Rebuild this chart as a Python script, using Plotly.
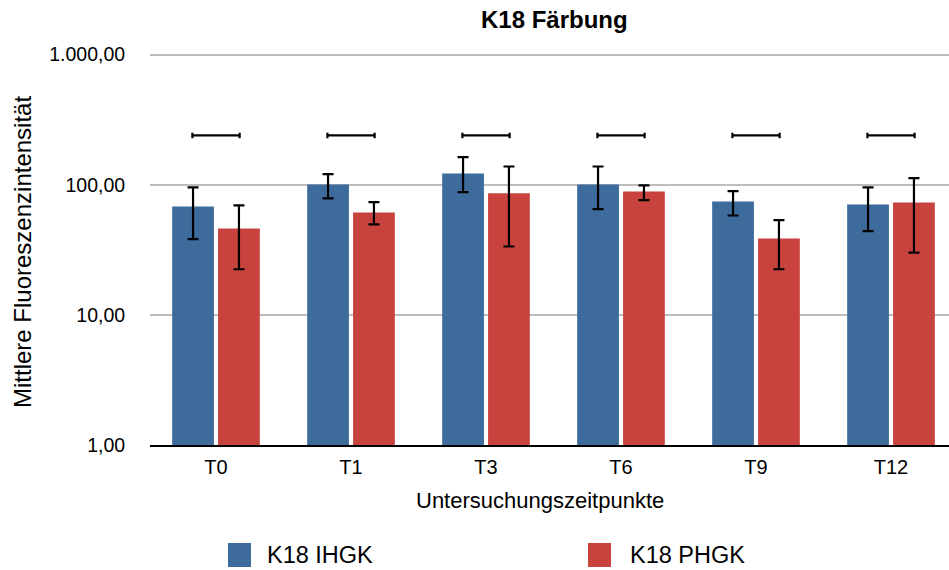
import plotly.graph_objects as go

# ---- data -------------------------------------------------------------
categories = ["T0", "T1", "T3", "T6", "T9", "T12"]

ihgk_mean = [68.0, 100.5, 122.0, 100.5, 74.4, 70.5]
ihgk_upper = [95.3, 120.7, 163.0, 138.0, 89.3, 95.3]
ihgk_lower = [38.2, 78.5, 87.7, 64.9, 58.0, 44.0]

phgk_mean = [46.1, 61.2, 85.8, 88.8, 38.6, 73.1]
phgk_upper = [69.3, 73.5, 138.0, 98.8, 53.4, 112.5]
phgk_lower = [22.4, 49.5, 33.5, 76.2, 22.4, 30.1]

bracket_level = 239.0

y_tick_vals = [1, 10, 100, 1000]
y_tick_text = ["1,00", "10,00", "100,00", "1.000,00"]

series_names = ["K18 IHGK", "K18 PHGK"]

# ---- styling ----------------------------------------------------------
BLUE = "#3C6B9C"
RED = "#C8433E"
FONT = "Liberation Sans, Arial, Helvetica, sans-serif"

W, H = 949, 570
Y_TOP = 3.012  # a hair above 1000 so its grid line is not clipped
DECADE_PX = 130.0
M_L, M_R, M_B = 150, 0, 125
M_T = round(H - M_B - DECADE_PX * Y_TOP)
PLOT_W = W - M_L - M_R
PLOT_H = H - M_T - M_B

# category spacing (px) and centre of the first group (px)
CAT_PX = 135.0
FIRST_PX = 216.0


def px_x(px):
    return (px - M_L) / PLOT_W


def px_y(py):
    return (H - M_B - py) / PLOT_H


x_pos = list(range(len(categories)))
half = 0.175  # distance from group centre to each bar centre


def err_plus(mean, upper):
    return [u - m for m, u in zip(mean, upper)]


def err_minus(mean, lower):
    return [m - l for m, l in zip(mean, lower)]


fig = go.Figure()

for name, mean, up, lo, col in [
    (series_names[0], ihgk_mean, ihgk_upper, ihgk_lower, BLUE),
    (series_names[1], phgk_mean, phgk_upper, phgk_lower, RED),
]:
    fig.add_trace(go.Bar(
        x=x_pos, y=mean, name=name, marker=dict(color=col, line=dict(width=0)),
        error_y=dict(type="data", symmetric=False,
                     array=err_plus(mean, up), arrayminus=err_minus(mean, lo),
                     color="black", thickness=2.2, width=5.5),
        showlegend=False,
    ))

# comparison brackets above each pair
cap = 1.05
bx, by = [], []
for i in x_pos:
    a, b = i - half, i + half
    bx += [a, a, None, a, b, None, b, b, None]
    by += [bracket_level / cap, bracket_level * cap, None,
           bracket_level, bracket_level, None,
           bracket_level / cap, bracket_level * cap, None]
fig.add_trace(go.Scatter(x=bx, y=by, mode="lines",
                         line=dict(color="black", width=2.2),
                         hoverinfo="skip", showlegend=False))

fig.update_layout(
    width=W, height=H,
    margin=dict(l=M_L, r=M_R, t=M_T, b=M_B),
    paper_bgcolor="white", plot_bgcolor="white",
    barmode="group", bargap=0.32, bargroupgap=0.09,
    font=dict(family=FONT, color="black", size=20),
)

x_lo = (M_L - FIRST_PX) / CAT_PX
x_hi = (W - M_R - FIRST_PX) / CAT_PX
fig.update_xaxes(
    range=[x_lo, x_hi],
    tickvals=x_pos, ticktext=categories,
    showgrid=False, zeroline=False,
    showline=True, linecolor="black", linewidth=2,
    ticks="outside", ticklen=3, tickcolor="rgba(0,0,0,0)",
    tickfont=dict(size=20, family=FONT),
)
fig.update_yaxes(
    type="log", range=[0, Y_TOP],
    tickvals=y_tick_vals, ticktext=y_tick_text,
    showgrid=True, gridcolor="#BDBDBD", gridwidth=1.5,
    zeroline=False, showline=False,
    ticks="outside", ticklen=20, tickcolor="rgba(0,0,0,0)",
    tickfont=dict(size=19.5, family=FONT),
)

annotations = [
    dict(text="<b>K18 Färbung</b>", xref="paper", yref="paper",
         x=px_x(554), y=px_y(19.5), xanchor="center", yanchor="middle",
         showarrow=False, font=dict(size=24, family=FONT)),
    dict(text="Untersuchungszeitpunkte", xref="paper", yref="paper",
         x=px_x(540), y=px_y(500), xanchor="center", yanchor="middle",
         showarrow=False, font=dict(size=22, family=FONT)),
    dict(text="Mittlere Fluoreszenzintensität", xref="paper", yref="paper",
         x=px_x(22), y=px_y(252), xanchor="center", yanchor="middle",
         textangle=-90, showarrow=False, font=dict(size=24, family=FONT)),
]

# legend: coloured squares with labels underneath the axis title
shapes = []
for name, col, sq_left, txt_left in [
    (series_names[0], BLUE, 228, 265),
    (series_names[1], RED, 588, 628),
]:
    shapes.append(dict(type="rect", xref="paper", yref="paper",
                       x0=px_x(sq_left), x1=px_x(sq_left + 23),
                       y0=px_y(543), y1=px_y(567),
                       fillcolor=col, line=dict(width=0)))
    annotations.append(dict(text=name, xref="paper", yref="paper",
                            x=px_x(txt_left), y=px_y(555),
                            xanchor="left", yanchor="middle",
                            showarrow=False, font=dict(size=23.5, family=FONT)))

fig.update_layout(annotations=annotations, shapes=shapes)

fig.write_html("out.html")
